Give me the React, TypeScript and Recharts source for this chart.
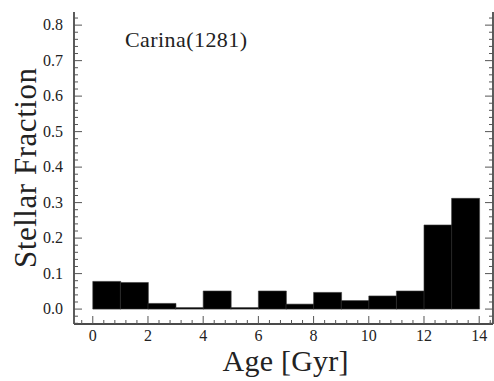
import { Bar, BarChart, XAxis, YAxis } from 'recharts'

// histogram bins (start of each 1 Gyr bin) and stellar fraction per bin
const AGE_BIN_START = [0, 1, 2, 3, 4, 5, 6, 7, 8, 9, 10, 11, 12, 13]
const STELLAR_FRACTION = [
  0.078, 0.075, 0.016, 0, 0.051, 0, 0.051, 0.014, 0.047, 0.024, 0.037, 0.051, 0.237, 0.312,
]

const X_MAJOR = [0, 2, 4, 6, 8, 10, 12, 14]
const Y_MAJOR = [0, 0.1, 0.2, 0.3, 0.4, 0.5, 0.6, 0.7, 0.8]
const X_DOMAIN: [number, number] = [-0.68, 14.5]
const Y_DOMAIN: [number, number] = [-0.042, 0.837]

const TITLE = 'Carina(1281)'
const X_LABEL = 'Age [Gyr]'
const Y_LABEL = 'Stellar Fraction'

// minor ticks every `step` inside the domain
const subdivide = (step: number, lo: number, hi: number) => {
  const out: number[] = []
  const start = Math.ceil(lo / step)
  const end = Math.floor(hi / step)
  for (let i = start; i <= end; i++) out.push(Math.round(i * step * 1000) / 1000)
  return out
}
const X_TICKS = subdivide(0.4, X_DOMAIN[0], X_DOMAIN[1])
const Y_TICKS = subdivide(0.02, Y_DOMAIN[0], Y_DOMAIN[1])

const isMajor = (list: number[], v: number) => list.some(m => Math.abs(m - v) < 1e-6)

const FONT = 'Liberation Serif'
const SPINE = '#4a4a4a'
const TICK = '#555'
const TEXT = '#222'

const SerifText = (props: any) => <text fontFamily={FONT} fill={TEXT} {...props} />

const rows = AGE_BIN_START.map((start, i) => ({
  age: start + 0.5,
  fraction: STELLAR_FRACTION[i],
}))

// ticks point inward (matplotlib style), labels only on major ticks
const BottomTick = (p: any) => {
  const v = p.payload.value
  const major = isMajor(X_MAJOR, v)
  return (
    <g>
      <line x1={p.x} x2={p.x} y1={p.y} y2={p.y - (major ? 8 : 4)} stroke={TICK} strokeWidth={1} />
      {major && (
        <SerifText x={p.x} y={p.y + 17} textAnchor="middle" fontSize={16}>
          {v}
        </SerifText>
      )}
    </g>
  )
}

const TopTick = (p: any) => {
  const major = isMajor(X_MAJOR, p.payload.value)
  return <line x1={p.x} x2={p.x} y1={p.y} y2={p.y + (major ? 8 : 4)} stroke={TICK} strokeWidth={1} />
}

const LeftTick = (p: any) => {
  const v = p.payload.value
  const major = isMajor(Y_MAJOR, v)
  return (
    <g>
      <line x1={p.x} x2={p.x + (major ? 8 : 4)} y1={p.y} y2={p.y} stroke={TICK} strokeWidth={1} />
      {major && (
        <SerifText x={p.x - 11} y={p.y + 5} textAnchor="end" fontSize={16}>
          {v.toFixed(1)}
        </SerifText>
      )}
    </g>
  )
}

const RightTick = (p: any) => {
  const major = isMajor(Y_MAJOR, p.payload.value)
  return <line x1={p.x} x2={p.x - (major ? 8 : 4)} y1={p.y} y2={p.y} stroke={TICK} strokeWidth={1} />
}

export default function App() {
  return (
    <div style={{ position: 'fixed', left: 0, top: 0, width: 494, height: 381, background: '#fff' }}>
      <BarChart
        width={494}
        height={381}
        data={rows}
        margin={{ top: 12, right: 0, bottom: 0, left: 0 }}
        barCategoryGap={0}
        barGap={0}
      >
        <XAxis
          dataKey="age"
          type="number"
          domain={X_DOMAIN}
          allowDataOverflow
          ticks={X_TICKS}
          interval={0}
          height={57}
          tickSize={0}
          tickMargin={0}
          tickLine={false}
          tick={BottomTick}
          axisLine={{ stroke: SPINE, strokeWidth: 1.8 }}
          label={{
            content: (props: any) => {
              const vb = props.viewBox
              return (
                <SerifText
                  x={vb.x + vb.width / 2 + 2}
                  y={371}
                  textAnchor="middle"
                  fontSize={30}
                  textLength={126}
                >
                  {X_LABEL}
                </SerifText>
              )
            },
          }}
        />
        <XAxis
          xAxisId="top"
          orientation="top"
          type="number"
          domain={X_DOMAIN}
          allowDataOverflow
          ticks={X_TICKS}
          interval={0}
          height={0}
          tickSize={0}
          tickMargin={0}
          tickLine={false}
          tick={TopTick}
          axisLine={{ stroke: SPINE, strokeWidth: 1.8 }}
        />
        <YAxis
          type="number"
          domain={Y_DOMAIN}
          allowDataOverflow
          ticks={Y_TICKS}
          interval={0}
          width={74}
          tickSize={0}
          tickMargin={0}
          tickLine={false}
          tick={LeftTick}
          axisLine={{ stroke: SPINE, strokeWidth: 1.8 }}
          label={{
            content: (props: any) => {
              const vb = props.viewBox
              const cy = vb.y + vb.height / 2
              return (
                <SerifText
                  x={36}
                  y={cy}
                  transform={`rotate(-90 36 ${cy})`}
                  textAnchor="middle"
                  fontSize={31}
                  textLength={200}
                >
                  {Y_LABEL}
                </SerifText>
              )
            },
          }}
        />
        <YAxis
          yAxisId="right"
          orientation="right"
          type="number"
          domain={Y_DOMAIN}
          allowDataOverflow
          ticks={Y_TICKS}
          interval={0}
          width={1}
          tickSize={0}
          tickMargin={0}
          tickLine={false}
          tick={RightTick}
          axisLine={{ stroke: SPINE, strokeWidth: 1.8 }}
        />
        <Bar
          dataKey="fraction"
          fill="#000"
          stroke="#3a3a3a"
          strokeWidth={0.6}
          minPointSize={1.5}
          isAnimationActive={false}
        />
        <SerifText x={125} y={47} fontSize={22} textLength={122}>
          {TITLE}
        </SerifText>
      </BarChart>
    </div>
  )
}
